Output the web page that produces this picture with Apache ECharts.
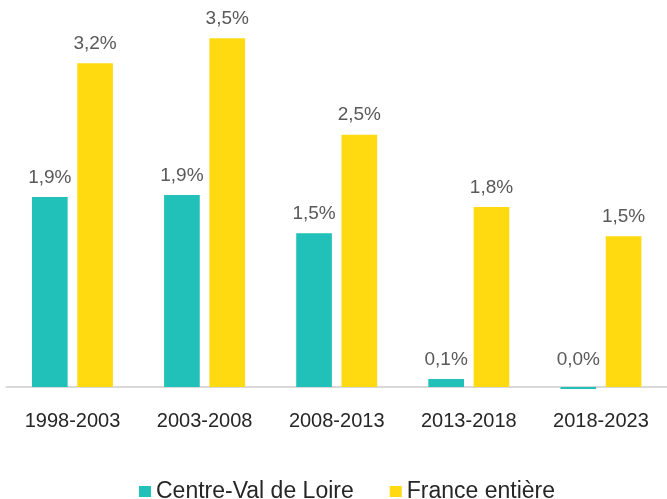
<!DOCTYPE html>
<html>
<head>
<meta charset="utf-8">
<script src="https://cdn.jsdelivr.net/npm/echarts@6/dist/echarts.min.js"></script>
<style>
  html, body { margin: 0; padding: 0; background: #fff; }
  #chart { width: 667px; height: 499px; }
</style>
</head>
<body>
<div id="chart"></div>
<script>
const categories = ["1998-2003", "2003-2008", "2008-2013", "2013-2018", "2018-2023"];
const centreValues = [1.89, 1.91, 1.53, 0.08, -0.02];
const franceValues = [3.22, 3.47, 2.51, 1.79, 1.5];
const seriesNames = ["Centre-Val de Loire", "France entière"];

const chart = echarts.init(document.getElementById("chart"));

function fmt(v) {
  return Math.abs(v).toFixed(1).replace(".", ",") + "%";
}

const labelStyle = {
  show: true,
  position: "top",
  distance: 10,
  fontFamily: "Liberation Sans, Arial",
  fontSize: 19,
  color: "#595959",
  formatter: (p) => fmt(p.value),
};

chart.setOption({
  animation: false,
  color: ["#21C1B9", "#FFDA11"],
  grid: { left: 6.4, right: -5.6, top: 5, bottom: 102 },
  legend: {
    top: 475,
    left: 134,
    itemWidth: 12,
    itemHeight: 11,
    itemGap: 36,
    icon: "rect",
    textStyle: { fontFamily: "Liberation Sans, Arial", fontSize: 23, color: "#262626" },
    data: seriesNames,
  },
  xAxis: {
    type: "category",
    data: categories,
    axisTick: { show: false },
    axisLine: { onZero: true, lineStyle: { color: "#D9D9D9", width: 2 } },
    axisLabel: {
      margin: 14,
      fontFamily: "Liberation Sans, Arial",
      fontSize: 20,
      color: "#262626",
    },
  },
  yAxis: {
    type: "value",
    min: -0.1,
    max: 3.8,
    show: false,
    splitLine: { show: false },
  },
  series: [
    {
      name: seriesNames[0],
      type: "bar",
      barWidth: "27%",
      barGap: "27%",
      data: centreValues.map((v) =>
        v < 0 ? { value: v, label: { position: "top", offset: [0, -8] } } : v
      ),
      label: labelStyle,
    },
    {
      name: seriesNames[1],
      type: "bar",
      barWidth: "27%",
      data: franceValues,
      label: labelStyle,
    },
  ],
});
window.onresize = () => chart.resize();
</script>
</body>
</html>
